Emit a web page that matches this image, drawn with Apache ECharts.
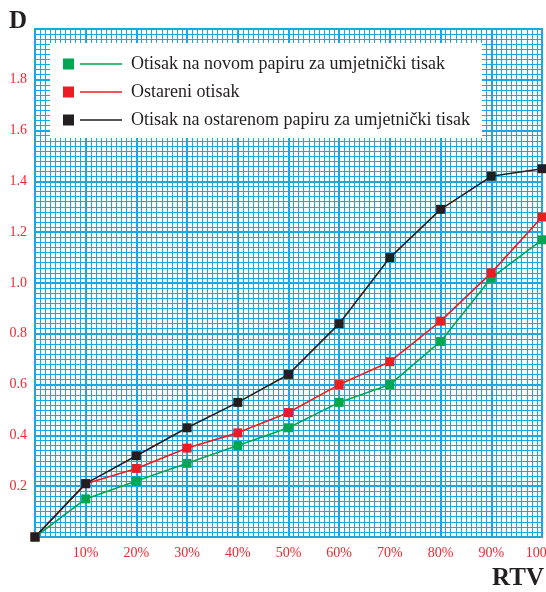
<!DOCTYPE html>
<html><head><meta charset="utf-8">
<script src="https://cdn.jsdelivr.net/npm/echarts@6/dist/echarts.min.js"></script>
<style>html,body{margin:0;padding:0;background:#fff}#c{width:546px;height:592px}</style>
</head><body><div id="c"></div>
<script>
var rtv = [0, 10, 20, 30, 40, 50, 60, 70, 80, 90, 100];
var seriesNames = ['Otisak na novom papiru za umjetnički tisak', 'Ostareni otisak', 'Otisak na ostarenom papiru za umjetnički tisak'];
var novi = [0, 0.15, 0.22, 0.29, 0.36, 0.43, 0.53, 0.60, 0.77, 1.02, 1.17];
var ostareni = [0, 0.21, 0.27, 0.35, 0.41, 0.49, 0.60, 0.69, 0.85, 1.04, 1.26];
var ostareniPapir = [0, 0.21, 0.32, 0.43, 0.53, 0.64, 0.84, 1.10, 1.29, 1.42, 1.45];
var colors = ['#00a651', '#ed1c24', '#231f20'];

var GRID = '#19a8e2';
var FONT = '"Liberation Serif", "DejaVu Serif", serif';
function pairs(v){ return rtv.map(function(x,i){ return [x, v[i]]; }); }
var icon = 'path://M0,0H11V11H0Z M17,4.8H59V6.2H17Z';

var chart = echarts.init(document.getElementById('c'), null, {renderer:'canvas'});
chart.setOption({
  animation: false,
  backgroundColor: '#fff',
  grid: {left: 35, right: 4, top: 29, bottom: 55, show: true, borderColor: GRID, borderWidth: 2, backgroundColor: '#fff',
    containLabel: false, outerBoundsMode: 'none'},
  graphic: [
    {type: 'rect', z: 1, shape: {x: 50, y: 43, width: 432, height: 95}, style: {fill: '#fff'}},
    {type: 'text', left: 9, top: 9, style: {text: 'D', font: 'bold 25px ' + FONT, fill: '#231f20'}},
    {type: 'text', right: 2, bottom: 1, style: {text: 'RTV', font: 'bold 25px ' + FONT, fill: '#231f20'}}
  ],
  legend: {
    orient: 'vertical', left: 63, top: 55, itemGap: 10, z: 5, padding: 0,
    itemWidth: 59, itemHeight: 11,
    data: seriesNames.map(function(n){ return {name: n, icon: icon}; }),
    textStyle: {fontFamily: FONT, fontSize: 18, lineHeight: 18, color: '#231f20', padding: [0,0,0,4]}
  },
  xAxis: {
    type: 'value', min: 0, max: 100, interval: 10,
    axisLine: {show: true, lineStyle: {color: GRID, width: 2}},
    axisTick: {show: false},
    splitLine: {show: true, lineStyle: {color: GRID, width: 2}},
    minorTick: {show: false, splitNumber: 10},
    minorSplitLine: {show: true, lineStyle: {color: GRID, width: 1}},
    axisLabel: {color: '#ed2a32', fontFamily: FONT, fontSize: 14, margin: 9, hideOverlap: false,
      formatter: function(v){ return v === 0 ? '' : v + '%'; }}
  },
  yAxis: {
    type: 'value', min: 0, max: 2, interval: 0.2,
    axisLine: {show: true, lineStyle: {color: GRID, width: 2}},
    axisTick: {show: false},
    splitLine: {show: true, lineStyle: {color: GRID, width: 2}},
    minorTick: {show: false, splitNumber: 10},
    minorSplitLine: {show: true, lineStyle: {color: GRID, width: 1}},
    axisLabel: {color: '#ed2a32', fontFamily: FONT, fontSize: 14, margin: 8,
      formatter: function(v){ return (v < 0.01 || v > 1.99) ? '' : v.toFixed(1); }}
  },
  series: [novi, ostareni, ostareniPapir].map(function(v, i){
    return {
      name: seriesNames[i], type: 'line', data: pairs(v), z: 3,
      symbol: 'rect', symbolSize: 9,
      itemStyle: {color: colors[i]},
      lineStyle: {color: colors[i], width: 1.6}
    };
  })
});
</script></body></html>
